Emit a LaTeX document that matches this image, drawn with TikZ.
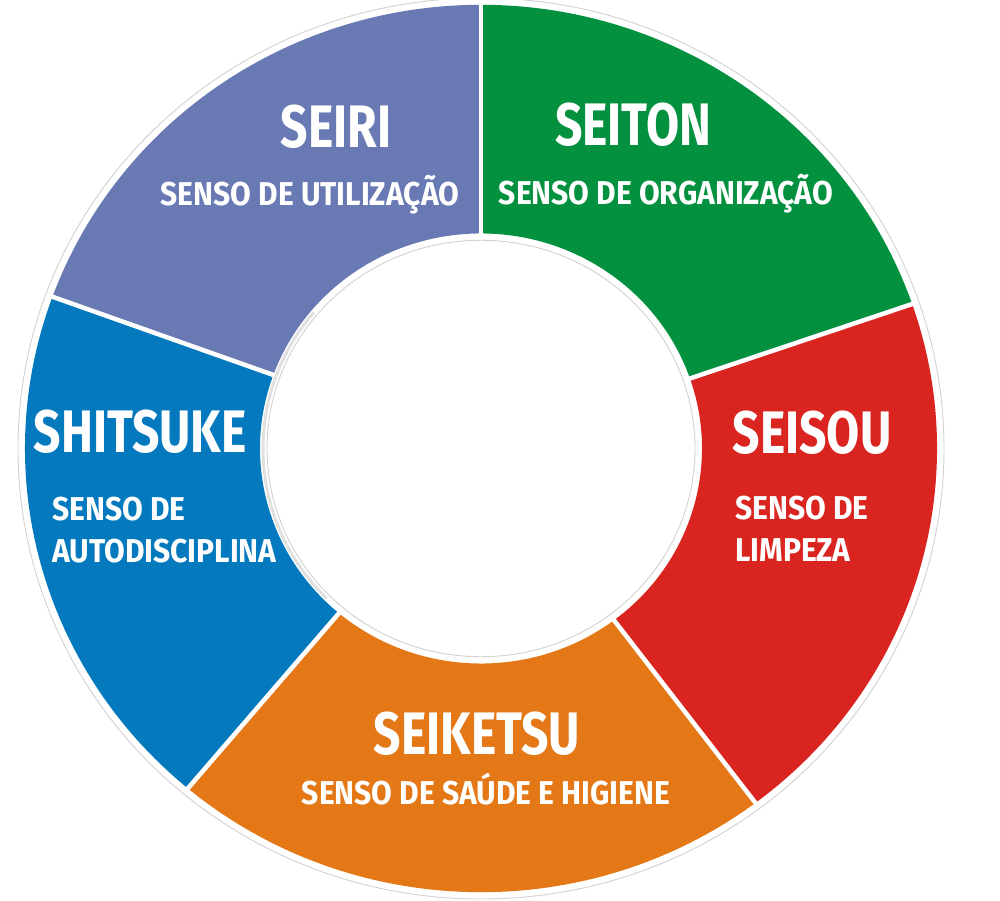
\documentclass[tikz,border=0pt]{standalone}
\usepackage{fontspec}
\setmainfont{Fira Sans}[FakeStretch=0.8]
\newfontfamily\subfont{Fira Sans}[FakeStretch=0.91]
\usetikzlibrary{positioning}
\definecolor{seiriblue}{HTML}{6879B3}
\definecolor{seitongreen}{HTML}{03903F}
\definecolor{seisoured}{HTML}{D9241F}
\definecolor{seiketsuorange}{HTML}{E47817}
\definecolor{shitsukeblue}{HTML}{0479BE}
\tikzset{
  sensetitle/.style={
    text=white,
    inner sep=0pt,
    text height=42pt,
    text depth=0pt,
    font=\fontsize{60}{64}\selectfont\bfseries
  },
  sensesub/.style={
    text=white,
    inner sep=0pt,
    align=left,
    font=\subfont\fontsize{33}{42}\selectfont\bfseries
  },
  gapline/.style={
    draw=white,
    line width=4.5pt
  },
  rim/.style={
    draw=black!18,
    line width=0.9pt
  }
}

\begin{document}
\begin{tikzpicture}[x=1pt,y=1pt]
\useasboundingbox (-481,-452.5) rectangle (519,448.5);
\begin{scope}[yscale=0.973]
% ring segments
\foreach \a/\b/\c in {90/160/seiriblue, 19/90/seitongreen, -53/19/seisoured,
                      -130/-53/seiketsuorange, -200/-130/shitsukeblue}
  \fill[\c] (\a:456) arc[start angle=\a, end angle=\b, radius=456]
    -- (\b:221) arc[start angle=\b, end angle=\a, radius=221] -- cycle;
\foreach \a in {90,19,-53,-130,160}
  \draw[gapline] (\a:205) -- (\a:470);
\draw[black!12, line width=3pt] (140:218) arc[start angle=140, end angle=225, radius=218];
\draw[rim] (0,0) circle[radius=463];
\draw[rim] (0,0) circle[radius=214];
\end{scope}
% labels
\node[sensetitle] (seiri) at (-145,321.5) {SEIRI};
\node[sensesub, text height=24pt, text depth=0pt] (seirisub) at (-171,255) {SENSO DE UTILIZAÇÃO};
\node[sensetitle] (seiton) at (152,323.5) {SEITON};
\node[sensesub, text height=24pt, text depth=0pt] (seitonsub) at (185,256) {SENSO DE ORGANIZAÇÃO};
\node[sensetitle] (seisou) at (331,15.5) {SEISOU};
\node[sensesub, anchor=west] (seisousub) at (254,-80) {SENSO DE\\LIMPEZA};
\node[sensetitle] (shitsuke) at (-341,16.5) {SHITSUKE};
\node[sensesub, anchor=west] (shitsukesub) at (-429,-82) {SENSO DE\\AUTODISCIPLINA};
\node[sensetitle] (seiketsu) at (-4,-284.5) {SEIKETSU};
\node[sensesub, text height=24pt, text depth=0pt] (seiketsusub) at (5,-344) {SENSO DE SAÚDE E HIGIENE};
\end{tikzpicture}
\end{document}
